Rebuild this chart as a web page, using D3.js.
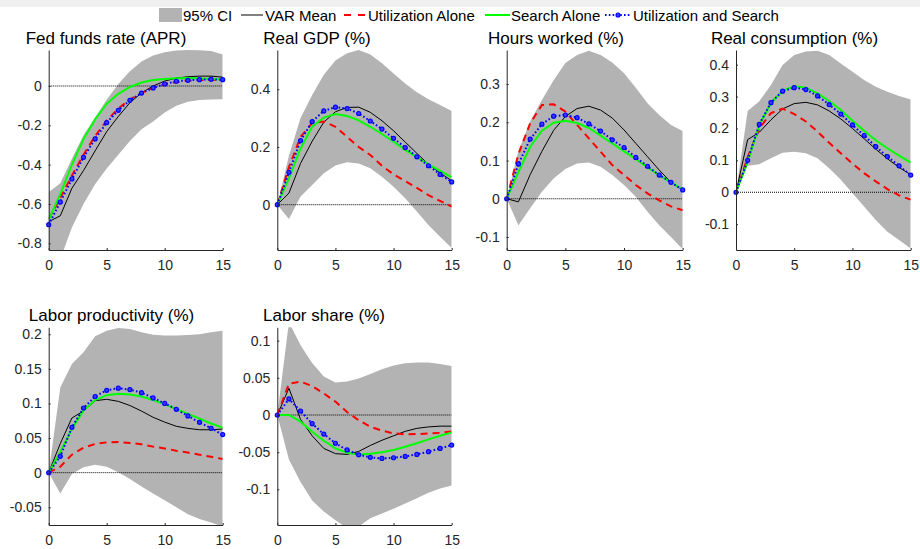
<!DOCTYPE html>
<html lang="en">
<head>
<meta charset="UTF-8">
<title>Impulse responses</title>
<style>
    body { margin: 0; background: #fff; }
    svg { display: block; font-family: "Liberation Sans", Arial, Helvetica, sans-serif; }
</style>
</head>
<body>
<svg width="920" height="549"></svg>

<script src="https://d3js.org/d3.v7.min.js"></script>
<script>

    // quarters after the shock
    let horizon = [0, 1, 2, 3, 4, 5, 6, 7, 8, 9, 10, 11, 12, 13, 14, 15]
    let xTicks = [0, 5, 10, 15]

    // Fed funds rate (APR)
    let ffrLower  = [-0.95, -0.88, -0.72, -0.60, -0.50, -0.42, -0.35, -0.28, -0.22, -0.18, -0.135, -0.10, -0.08, -0.071, -0.069, -0.068]
    let ffrUpper  = [-0.54, -0.495, -0.37, -0.25, -0.16, -0.07, 0.01, 0.075, 0.125, 0.155, 0.172, 0.18, 0.183, 0.182, 0.178, 0.16]
    let ffrVar    = [-0.69, -0.66, -0.52, -0.43, -0.33, -0.232, -0.155, -0.085, -0.035, 0.0, 0.025, 0.04, 0.047, 0.05, 0.05, 0.045]
    let ffrUtil   = [-0.675, -0.57, -0.455, -0.35, -0.255, -0.175, -0.115, -0.068, -0.035, -0.01, 0.008, 0.02, 0.027, 0.03, 0.031, 0.031]
    let ffrSearch = [-0.68, -0.55, -0.40, -0.27, -0.17, -0.09, -0.04, -0.005, 0.018, 0.03, 0.036, 0.039, 0.04, 0.038, 0.036, 0.033]
    let ffrBoth   = [-0.705, -0.59, -0.473, -0.363, -0.269, -0.186, -0.124, -0.073, -0.036, -0.01, 0.01, 0.024, 0.029, 0.032, 0.034, 0.032]

    // Real GDP (%)
    let gdpLower  = [0, -0.05, 0.028, 0.068, 0.109, 0.136, 0.147, 0.143, 0.126, 0.097, 0.062, 0.022, -0.024, -0.07, -0.111, -0.15]
    let gdpUpper  = [0, 0.17, 0.30, 0.38, 0.45, 0.50, 0.525, 0.536, 0.52, 0.49, 0.455, 0.42, 0.39, 0.365, 0.345, 0.325]
    let gdpVar    = [0, 0.04, 0.143, 0.22, 0.286, 0.322, 0.337, 0.338, 0.32, 0.291, 0.256, 0.217, 0.178, 0.14, 0.11, 0.083]
    let gdpUtil   = [0, 0.13, 0.235, 0.283, 0.288, 0.27, 0.235, 0.2, 0.172, 0.135, 0.105, 0.082, 0.058, 0.033, 0.013, -0.007]
    let gdpSearch = [0, 0.091, 0.195, 0.27, 0.302, 0.314, 0.307, 0.292, 0.27, 0.245, 0.218, 0.19, 0.165, 0.14, 0.117, 0.095]
    let gdpBoth   = [0, 0.112, 0.222, 0.288, 0.325, 0.338, 0.333, 0.316, 0.29, 0.262, 0.23, 0.198, 0.166, 0.135, 0.105, 0.079]

    // Hours worked (%)
    let hrsLower  = [0, -0.069, -0.025, 0.018, 0.053, 0.078, 0.092, 0.095, 0.084, 0.062, 0.036, 0.005, -0.034, -0.069, -0.1, -0.132]
    let hrsUpper  = [0, 0.125, 0.203, 0.258, 0.31, 0.355, 0.376, 0.387, 0.376, 0.356, 0.328, 0.29, 0.25, 0.219, 0.193, 0.177]
    let hrsVar    = [0, -0.008, 0.063, 0.124, 0.179, 0.215, 0.236, 0.242, 0.232, 0.211, 0.18, 0.145, 0.11, 0.075, 0.043, 0.022]
    let hrsUtil   = [0, 0.117, 0.197, 0.245, 0.247, 0.228, 0.193, 0.158, 0.123, 0.088, 0.062, 0.036, 0.014, -0.004, -0.02, -0.03]
    let hrsSearch = [0, 0.07, 0.136, 0.178, 0.199, 0.204, 0.198, 0.185, 0.165, 0.145, 0.124, 0.104, 0.082, 0.062, 0.043, 0.025]
    let hrsBoth   = [0, 0.091, 0.156, 0.195, 0.216, 0.219, 0.212, 0.196, 0.177, 0.154, 0.134, 0.108, 0.085, 0.062, 0.043, 0.023]

    // Real consumption (%)
    let conLower  = [0, 0.083, 0.088, 0.107, 0.124, 0.127, 0.122, 0.107, 0.075, 0.039, -0.003, -0.045, -0.087, -0.124, -0.15, -0.176]
    let conUpper  = [0, 0.255, 0.285, 0.336, 0.399, 0.43, 0.441, 0.444, 0.43, 0.404, 0.378, 0.352, 0.331, 0.315, 0.302, 0.291]
    let conVar    = [0, 0.165, 0.188, 0.227, 0.261, 0.278, 0.282, 0.274, 0.255, 0.23, 0.2, 0.168, 0.135, 0.105, 0.078, 0.055]
    let conUtil   = [0, 0.11, 0.2, 0.248, 0.262, 0.245, 0.222, 0.19, 0.155, 0.122, 0.09, 0.06, 0.034, 0.01, -0.01, -0.023]
    let conSearch = [0, 0.095, 0.21, 0.28, 0.318, 0.332, 0.328, 0.31, 0.286, 0.258, 0.224, 0.193, 0.163, 0.138, 0.115, 0.093]
    let conBoth   = [0, 0.1, 0.213, 0.281, 0.317, 0.328, 0.322, 0.302, 0.275, 0.245, 0.211, 0.178, 0.143, 0.112, 0.083, 0.054]

    // Labor productivity (%)
    let lpLower  = [0, -0.03, -0.002, 0.0077, 0.0116, 0.0087, 0.0005, -0.009, -0.02, -0.03, -0.04, -0.05, -0.06, -0.067, -0.072, -0.078]
    let lpUpper  = [0, 0.123, 0.157, 0.174, 0.197, 0.205, 0.209, 0.2076, 0.203, 0.1994, 0.198, 0.198, 0.199, 0.2, 0.203, 0.205]
    let lpVar    = [0, 0.042, 0.079, 0.089, 0.104, 0.106, 0.103, 0.097, 0.089, 0.08, 0.073, 0.067, 0.064, 0.062, 0.062, 0.063]
    let lpUtil   = [0, 0.0087, 0.026, 0.036, 0.0414, 0.0438, 0.0443, 0.043, 0.041, 0.0376, 0.035, 0.0318, 0.029, 0.026, 0.023, 0.0197]
    let lpSearch = [0, 0.03, 0.063, 0.09, 0.105, 0.112, 0.114, 0.113, 0.11, 0.105, 0.099, 0.092, 0.085, 0.078, 0.071, 0.065]
    let lpBoth   = [0, 0.0236, 0.0655, 0.0934, 0.11, 0.119, 0.122, 0.12, 0.1156, 0.108, 0.1, 0.0915, 0.082, 0.0727, 0.064, 0.055]

    // Labor share (%)
    let lsLower  = [0, -0.06, -0.09, -0.115, -0.13, -0.1415, -0.152, -0.15, -0.139, -0.1325, -0.126, -0.119, -0.112, -0.1047, -0.099, -0.095]
    let lsUpper  = [0, 0.125, 0.094, 0.07, 0.0517, 0.0436, 0.045, 0.049, 0.055, 0.0615, 0.0665, 0.0696, 0.0705, 0.0705, 0.0687, 0.066]
    let lsVar    = [0, 0.036, -0.006, -0.028, -0.045, -0.052, -0.053, -0.049, -0.041, -0.034, -0.028, -0.022, -0.018, -0.016, -0.015, -0.015]
    let lsUtil   = [0, 0.042, 0.045, 0.039, 0.029, 0.018, 0.004, -0.007, -0.0157, -0.021, -0.0247, -0.026, -0.0256, -0.025, -0.024, -0.022]
    let lsSearch = [0, 0, -0.009, -0.0225, -0.0346, -0.045, -0.0508, -0.053, -0.052, -0.05, -0.047, -0.0427, -0.038, -0.0328, -0.028, -0.0234]
    let lsBoth   = [0, 0.0216, 0.0054, -0.0117, -0.0256, -0.038, -0.047, -0.0535, -0.057, -0.0584, -0.0575, -0.0557, -0.053, -0.0494, -0.045, -0.0404]

    let legendLabels = ['95% CI', 'VAR Mean', 'Utilization Alone', 'Search Alone', 'Utilization and Search']

    // line styles for the four model lines
    let styles = {
        var:    {stroke: '#000000', width: 1,   dash: null},
        util:   {stroke: '#ff0000', width: 2,   dash: '7,5'},
        search: {stroke: '#00ff00', width: 2,   dash: null},
        both:   {stroke: '#0000ff', width: 2,   dash: '1.6,2.2'}
    }

    let panels = [
        {title: 'Fed funds rate (APR)', tx: 106, ty: 44, left: 48.7, right: 222.7, top: 50, bottom: 250,
         yDomain: [-0.834, 0.183], yTicks: [-0.8, -0.6, -0.4, -0.2, 0],
         lower: ffrLower, upper: ffrUpper, var: ffrVar, util: ffrUtil, search: ffrSearch, both: ffrBoth},
        {title: 'Real GDP (%)', tx: 317, ty: 44, left: 277.3, right: 451.7, top: 50, bottom: 250,
         yDomain: [-0.157, 0.536], yTicks: [0, 0.2, 0.4],
         lower: gdpLower, upper: gdpUpper, var: gdpVar, util: gdpUtil, search: gdpSearch, both: gdpBoth},
        {title: 'Hours worked (%)', tx: 556, ty: 44, left: 506.7, right: 682.7, top: 50, bottom: 250,
         yDomain: [-0.134, 0.389], yTicks: [-0.1, 0, 0.1, 0.2, 0.3],
         lower: hrsLower, upper: hrsUpper, var: hrsVar, util: hrsUtil, search: hrsSearch, both: hrsBoth},
        {title: 'Real consumption (%)', tx: 794.5, ty: 44, left: 736, right: 910.7, top: 50, bottom: 250,
         yDomain: [-0.181, 0.446], yTicks: [-0.1, 0, 0.1, 0.2, 0.3, 0.4],
         lower: conLower, upper: conUpper, var: conVar, util: conUtil, search: conSearch, both: conBoth},
        {title: 'Labor productivity (%)', tx: 111.5, ty: 321, left: 48.7, right: 222.7, top: 327.3, bottom: 525,
         yDomain: [-0.0756, 0.21], yTicks: [-0.05, 0, 0.05, 0.1, 0.15, 0.2],
         lower: lpLower, upper: lpUpper, var: lpVar, util: lpUtil, search: lpSearch, both: lpBoth},
        {title: 'Labor share (%)', tx: 324, ty: 321, left: 277.3, right: 451.7, top: 327.3, bottom: 525,
         yDomain: [-0.148, 0.118], yTicks: [-0.1, -0.05, 0, 0.05, 0.1],
         lower: lsLower, upper: lsUpper, var: lsVar, util: lsUtil, search: lsSearch, both: lsBoth}
    ]

    let svg = d3.select('svg')
    let defs = svg.append('defs')

    // thin light strip along the top edge
    svg.append('rect').attr('x', 0).attr('y', 0).attr('width', 920).attr('height', 7).attr('fill', '#f0f0f0')

    panels.forEach(drawPanel)
    drawLegend()

    function drawPanel(p, i) {
        let x = d3.scaleLinear().domain([0, 15]).range([p.left, p.right])
        let y = d3.scaleLinear().domain(p.yDomain).range([p.bottom, p.top])

        defs.append('clipPath').attr('id', 'clip' + i)
            .append('rect')
            .attr('x', p.left).attr('y', p.top)
            .attr('width', p.right - p.left).attr('height', p.bottom - p.top)

        let g = svg.append('g')
        let plot = g.append('g').attr('clip-path', 'url(#clip' + i + ')')

        // confidence band
        let area = d3.area()
            .x(function (d, j) { return x(horizon[j]) })
            .y0(function (d) { return y(d[0]) })
            .y1(function (d) { return y(d[1]) })
        plot.append('path')
            .datum(d3.zip(p.lower, p.upper))
            .attr('d', area)
            .attr('fill', '#b3b3b3')

        // zero reference
        plot.append('line')
            .attr('x1', x(0)).attr('x2', x(15))
            .attr('y1', y(0)).attr('y2', y(0))
            .attr('stroke', '#000').attr('stroke-width', 1)
            .attr('stroke-dasharray', '1,1')

        let line = d3.line()
            .x(function (d, j) { return x(horizon[j]) })
            .y(function (d) { return y(d) })

        ;['var', 'util', 'search', 'both'].forEach(function (key) {
            let s = styles[key]
            plot.append('path')
                .datum(p[key])
                .attr('d', line)
                .attr('fill', 'none')
                .attr('stroke', s.stroke)
                .attr('stroke-width', s.width)
                .attr('stroke-dasharray', s.dash)
        })

        // markers for the combined model
        g.append('g')
            .selectAll('circle')
            .data(p.both)
            .enter()
            .append('circle')
            .attr('cx', function (d, j) { return x(horizon[j]) })
            .attr('cy', function (d) { return y(d) })
            .attr('r', 2)
            .attr('fill', '#3a3aff')
            .attr('stroke', '#0000ff')
            .attr('stroke-width', 1.2)

        // axes
        let yAxis = d3.axisLeft(y)
            .tickValues(p.yTicks)
            .tickSize(-2)
            .tickSizeOuter(0)
            .tickPadding(7)
            .tickFormat(function (d) { return String(+d.toFixed(2)) })
        let xAxis = d3.axisBottom(x)
            .tickValues(xTicks)
            .tickSize(-2)
            .tickSizeOuter(0)
            .tickPadding(10)
            .tickFormat(function (d) { return String(d) })

        let ya = g.append('g')
            .attr('transform', 'translate(' + p.left + ',0)')
            .call(yAxis)
        let xa = g.append('g')
            .attr('transform', 'translate(0,' + p.bottom + ')')
            .call(xAxis)

        ;[ya, xa].forEach(function (a) {
            a.attr('font-family', null).attr('font-size', 14)
            a.select('.domain').attr('stroke', '#262626')
            a.selectAll('.tick line').attr('stroke', '#262626')
            a.selectAll('.tick text').attr('fill', '#262626')
        })

        g.append('text')
            .attr('x', p.tx).attr('y', p.ty)
            .attr('text-anchor', 'middle')
            .attr('font-size', 17)
            .attr('fill', '#000')
            .text(p.title)
    }

    function drawLegend() {
        let lg = svg.append('g').attr('font-size', 15)
        let cy = 15

        // 95% CI
        lg.append('rect').attr('x', 159).attr('y', 8).attr('width', 23).attr('height', 14).attr('fill', '#b3b3b3')
        lg.append('text').attr('x', 183).attr('y', 20.5).text(legendLabels[0])

        // VAR Mean
        lg.append('line').attr('x1', 241).attr('x2', 263).attr('y1', cy).attr('y2', cy)
            .attr('stroke', styles.var.stroke).attr('stroke-width', 1)
        lg.append('text').attr('x', 265).attr('y', 20.5).text(legendLabels[1])

        // Utilization Alone
        lg.append('line').attr('x1', 344).attr('x2', 366).attr('y1', cy).attr('y2', cy)
            .attr('stroke', styles.util.stroke).attr('stroke-width', 2).attr('stroke-dasharray', '7,7')
        lg.append('text').attr('x', 368).attr('y', 20.5).text(legendLabels[2])

        // Search Alone
        lg.append('line').attr('x1', 485).attr('x2', 510).attr('y1', cy).attr('y2', cy)
            .attr('stroke', styles.search.stroke).attr('stroke-width', 2)
        lg.append('text').attr('x', 511).attr('y', 20.5).text(legendLabels[3])

        // Utilization and Search
        lg.append('line').attr('x1', 605).attr('x2', 631).attr('y1', cy).attr('y2', cy)
            .attr('stroke', styles.both.stroke).attr('stroke-width', 2).attr('stroke-dasharray', styles.both.dash)
        lg.append('circle').attr('cx', 618).attr('cy', cy).attr('r', 2)
            .attr('fill', '#3a3aff').attr('stroke', '#0000ff').attr('stroke-width', 1.2)
        lg.append('text').attr('x', 633).attr('y', 20.5).text(legendLabels[4])
    }

</script>
</body>
</html>
